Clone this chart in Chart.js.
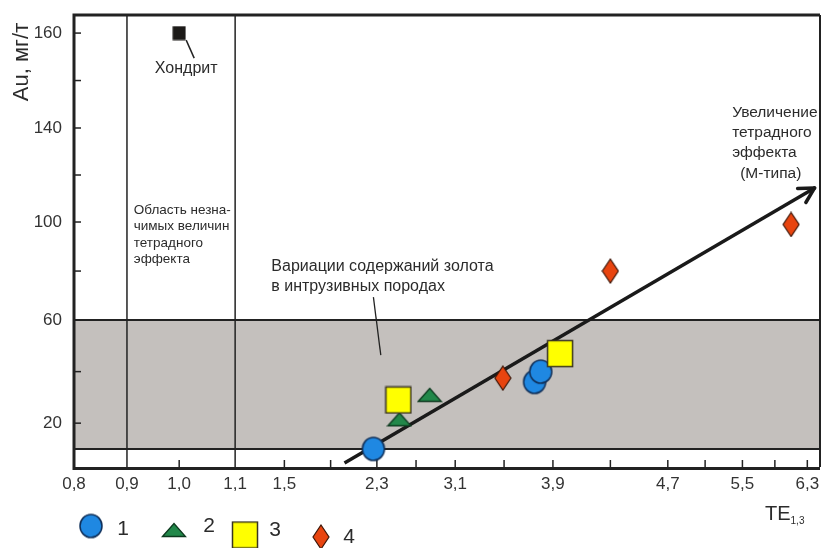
<!DOCTYPE html>
<html>
<head>
<meta charset="utf-8">
<script src="https://cdn.jsdelivr.net/npm/chart.js@4.4.1/dist/chart.umd.min.js"></script>
<style>
  html, body { margin: 0; padding: 0; background: #fff; }
</style>
</head>
<body>
<canvas id="c" width="825" height="548"></canvas>
<script>
// оси (на исходном рисунке шкалы неравномерные)
const xTickValues = [0.8, 0.9, 1.0, 1.1, 1.5, 2.3, 3.1, 3.9, 4.7, 5.5, 6.3];
const xTickLabels = ['0,8', '0,9', '1,0', '1,1', '1,5', '2,3', '3,1', '3,9', '4,7', '5,5', '6,3'];
const yTickValues = [20, 60, 100, 140, 160];
const yTickLabels = ['20', '60', '100', '140', '160'];
const xMinor = [1.9, 2.7, 3.5, 4.3, 5.1, 5.9];
const yMinor = [40, 80, 120, 150];

// данные: TE1,3 и Au
const s1TE = [2.27, 3.75, 3.80];
const s1Au = [10, 36, 40];
const s2TE = [2.53, 2.84];
const s2Au = [21.5, 31];
const s3TE = [2.52, 3.95];
const s3Au = [29, 47];
const s4TE = [3.49, 4.30, 6.10];
const s4Au = [37.5, 80, 99];
const chondriteTE = [1.0];
const chondriteAu = [160];
const trendTE = [2.02, 6.39];
const trendAu = [4.5, 114.5];
const bandAu = [10, 60];        // вариации содержаний золота
const boundTE = [0.9, 1.1];     // область незначимых величин

// положение делений вдоль осей, % длины оси
const xTickPos = [0, 7.1, 14.1, 21.6, 28.2, 40.6, 51.1, 64.2, 79.6, 89.6, 98.3];
const yTickPos = [9.7, 32.5, 54.2, 75.0, 96.0];

function toAxis(v, vals, pos) {
    let i = 0;
    if (v >= vals[vals.length - 1]) i = vals.length - 2;
    else if (v > vals[0]) { while (v > vals[i + 1]) i++; }
    const t = (v - vals[i]) / (vals[i + 1] - vals[i]);
    return pos[i] + t * (pos[i + 1] - pos[i]);
}
const ax = v => toAxis(v, xTickValues, xTickPos);
const ay = v => toAxis(v, yTickValues, yTickPos);
const pts = (xs, ys) => xs.map((x, i) => ({ x: ax(x), y: ay(ys[i]) }));

function marker(w, h, draw) {
    const c = document.createElement('canvas');
    c.width = w; c.height = h;
    draw(c.getContext('2d'));
    return c;
}
const circleImg = marker(26, 27, g => {
    g.beginPath(); g.ellipse(13, 13.5, 11, 11.5, 0, 0, Math.PI * 2);
    g.fillStyle = '#1f88e2'; g.fill();
    g.lineWidth = 1.5; g.strokeStyle = '#10305a'; g.stroke();
});
const triangleImg = marker(26, 16, g => {
    g.beginPath(); g.moveTo(1.5, 14.5); g.lineTo(13, 1.5); g.lineTo(24.5, 14.5); g.closePath();
    g.fillStyle = '#22884a'; g.fill();
    g.lineWidth = 1.3; g.strokeStyle = '#0d3a1f'; g.stroke();
});
const squareImg = marker(28, 29, g => {
    g.fillStyle = '#ffff00'; g.fillRect(1.5, 1.5, 25, 26);
    g.lineWidth = 1.5; g.strokeStyle = '#3a3520'; g.strokeRect(1.5, 1.5, 25, 26);
});
const diamondImg = marker(18, 26, g => {
    g.beginPath(); g.moveTo(9, 1); g.lineTo(17, 13); g.lineTo(9, 25); g.lineTo(1, 13); g.closePath();
    g.fillStyle = '#e8440f'; g.fill();
    g.lineWidth = 1.2; g.strokeStyle = '#3e1608'; g.stroke();
});
const chondriteImg = marker(14, 15, g => {
    g.fillStyle = '#1c1a18'; g.fillRect(0.5, 0.5, 13, 14);
});

const FONT = "'Liberation Sans', Arial, sans-serif";
const INK = '#2b2b2b';

const extras = {
    id: 'extras',
    beforeDatasetsDraw(chart) {
        const { ctx, chartArea: a, scales: { x, y } } = chart;
        const px = v => x.getPixelForValue(ax(v));
        const py = v => y.getPixelForValue(ay(v));
        ctx.save();
        const yTop = py(bandAu[1]), yBot = py(bandAu[0]);
        ctx.fillStyle = '#c4c0bd';
        ctx.fillRect(a.left, yTop, a.right - a.left, yBot - yTop);
        ctx.strokeStyle = '#222';
        ctx.lineWidth = 2;
        [yTop, yBot].forEach(yy => {
            ctx.beginPath(); ctx.moveTo(a.left, yy); ctx.lineTo(a.right, yy); ctx.stroke();
        });
        ctx.lineWidth = 1.5;
        boundTE.forEach(v => {
            ctx.beginPath(); ctx.moveTo(px(v), a.top); ctx.lineTo(px(v), a.bottom); ctx.stroke();
        });
        // короткие деления внутрь
        xTickValues.concat(xMinor).forEach(v => {
            if (boundTE.includes(v) || v === xTickValues[0]) return;
            ctx.beginPath(); ctx.moveTo(px(v), a.bottom); ctx.lineTo(px(v), a.bottom - 7); ctx.stroke();
        });
        yTickValues.concat(yMinor).forEach(v => {
            ctx.beginPath(); ctx.moveTo(a.left, py(v)); ctx.lineTo(a.left + 7, py(v)); ctx.stroke();
        });

        // подписи в поле графика
        ctx.fillStyle = INK;
        ctx.textBaseline = 'middle';
        ctx.textAlign = 'left';
        ctx.font = '13.5px ' + FONT;
        ['Область незна-', 'чимых величин', 'тетрадного', 'эффекта'].forEach((t, i) => {
            ctx.fillText(t, px(0.913), py(105) + i * 16.5);
        });
        ctx.font = '16px ' + FONT;
        ['Вариации содержаний золота', 'в интрузивных породах'].forEach((t, i) => {
            ctx.fillText(t, px(1.394), py(82) + i * 20);
        });
        ctx.lineWidth = 1.3;
        ctx.beginPath(); ctx.moveTo(px(2.27), py(69.4)); ctx.lineTo(px(2.34), py(46.4)); ctx.stroke();
        ctx.font = '15.5px ' + FONT;
        ['Увеличение', 'тетрадного', 'эффекта'].forEach((t, i) => {
            ctx.fillText(t, px(5.39), py(143.2) + i * 20);
        });
        ctx.fillText('(М-типа)', px(5.39) + 8, py(143.2) + 61);

        // хондрит
        const cx = px(chondriteTE[0]), cy = py(chondriteAu[0]);
        ctx.lineWidth = 1.5;
        ctx.beginPath(); ctx.moveTo(cx + 7, cy + 7); ctx.lineTo(cx + 15, cy + 25); ctx.stroke();
        ctx.textAlign = 'center';
        ctx.font = '16px ' + FONT;
        ctx.fillText('Хондрит', cx + 7, cy + 36);
        ctx.restore();
    },
    afterDatasetsDraw(chart) {
        const { ctx } = chart;
        const meta = chart.getDatasetMeta(chart.data.datasets.length - 1);
        const p0 = meta.data[0], p1 = meta.data[1];
        const ang = Math.atan2(p1.y - p0.y, p1.x - p0.x);
        ctx.save();
        ctx.strokeStyle = '#1a1a1a';
        ctx.lineWidth = 3.5;
        ctx.lineCap = 'round';
        [0.5, -0.5].forEach(d => {
            ctx.beginPath();
            ctx.moveTo(p1.x, p1.y);
            ctx.lineTo(p1.x - 17 * Math.cos(ang + d), p1.y - 17 * Math.sin(ang + d));
            ctx.stroke();
        });
        ctx.restore();
    },
    afterDraw(chart) {
        const { ctx, chartArea: a } = chart;
        ctx.save();
        ctx.strokeStyle = '#222';
        ctx.lineWidth = 3;
        ctx.beginPath();
        ctx.moveTo(a.left, a.top); ctx.lineTo(a.right, a.top);
        ctx.moveTo(a.left, a.top - 1.5); ctx.lineTo(a.left, a.bottom + 1.5);
        ctx.lineTo(a.right, a.bottom + 1.5);
        ctx.stroke();
        ctx.lineWidth = 2;
        ctx.beginPath(); ctx.moveTo(a.right, a.top); ctx.lineTo(a.right, a.bottom); ctx.stroke();

        // название оси Y
        ctx.fillStyle = INK;
        ctx.font = '22px ' + FONT;
        ctx.textAlign = 'center';
        ctx.textBaseline = 'middle';
        ctx.save();
        ctx.translate(22, 62);
        ctx.rotate(-Math.PI / 2);
        ctx.fillText('Au, мг/т', 0, 0);
        ctx.restore();

        // название оси X
        ctx.textAlign = 'left';
        ctx.font = '20px ' + FONT;
        ctx.fillText('TE', 765, 514);
        const w = ctx.measureText('TE').width;
        ctx.font = '10px ' + FONT;
        ctx.fillText('1,3', 765 + w, 521);

        // легенда
        const items = [[circleImg, 91, 526, '1', 123, 529], [triangleImg, 174, 530, '2', 209, 526],
                       [squareImg, 245, 535, '3', 275, 530], [diamondImg, 321, 537, '4', 349, 537]];
        ctx.font = '21px ' + FONT;
        ctx.textAlign = 'center';
        items.forEach(([img, mx, my, t, tx, ty]) => {
            ctx.drawImage(img, mx - img.width / 2, my - img.height / 2);
            ctx.fillText(t, tx, ty);
        });
        ctx.restore();
    }
};

new Chart(document.getElementById('c'), {
    type: 'scatter',
    data: {
        datasets: [
            { label: '4', data: pts(s4TE, s4Au), pointStyle: diamondImg },
            { label: '3', data: pts(s3TE, s3Au), pointStyle: squareImg },
            { label: '2', data: pts(s2TE, s2Au), pointStyle: triangleImg },
            { label: '1', data: pts(s1TE, s1Au), pointStyle: circleImg },
            { label: 'Хондрит', data: pts(chondriteTE, chondriteAu), pointStyle: chondriteImg },
            { label: 'trend', type: 'line', data: pts(trendTE, trendAu), showLine: true,
              borderColor: '#1a1a1a', borderWidth: 3.5, pointRadius: 0, fill: false }
        ]
    },
    options: {
        responsive: false,
        animation: false,
        devicePixelRatio: 1,
        layout: { padding: { top: 15, right: 2, left: 0, bottom: 0 } },
        plugins: { legend: { display: false }, tooltip: { enabled: false } },
        scales: {
            x: {
                type: 'linear', min: 0, max: 100,
                grid: { display: false, drawTicks: false },
                border: { display: false },
                afterBuildTicks: s => { s.ticks = xTickPos.map(v => ({ value: v })); },
                afterFit: s => { s.height = 81; s.paddingLeft = 0; s.paddingRight = 0; },
                ticks: {
                    autoSkip: false, maxRotation: 0, padding: 7, color: '#333',
                    font: { family: FONT, size: 17 },
                    callback: (v, i) => xTickLabels[i]
                }
            },
            y: {
                type: 'linear', min: 0, max: 100,
                grid: { display: false, drawTicks: false },
                border: { display: false },
                afterBuildTicks: s => { s.ticks = yTickPos.map(v => ({ value: v })); },
                afterFit: s => { s.width = 74; s.paddingTop = 0; s.paddingBottom = 0; },
                ticks: {
                    autoSkip: false, padding: 12, color: '#333',
                    font: { family: FONT, size: 17 },
                    callback: (v, i) => yTickLabels[i]
                }
            }
        }
    },
    plugins: [extras]
});
</script>
</body>
</html>
